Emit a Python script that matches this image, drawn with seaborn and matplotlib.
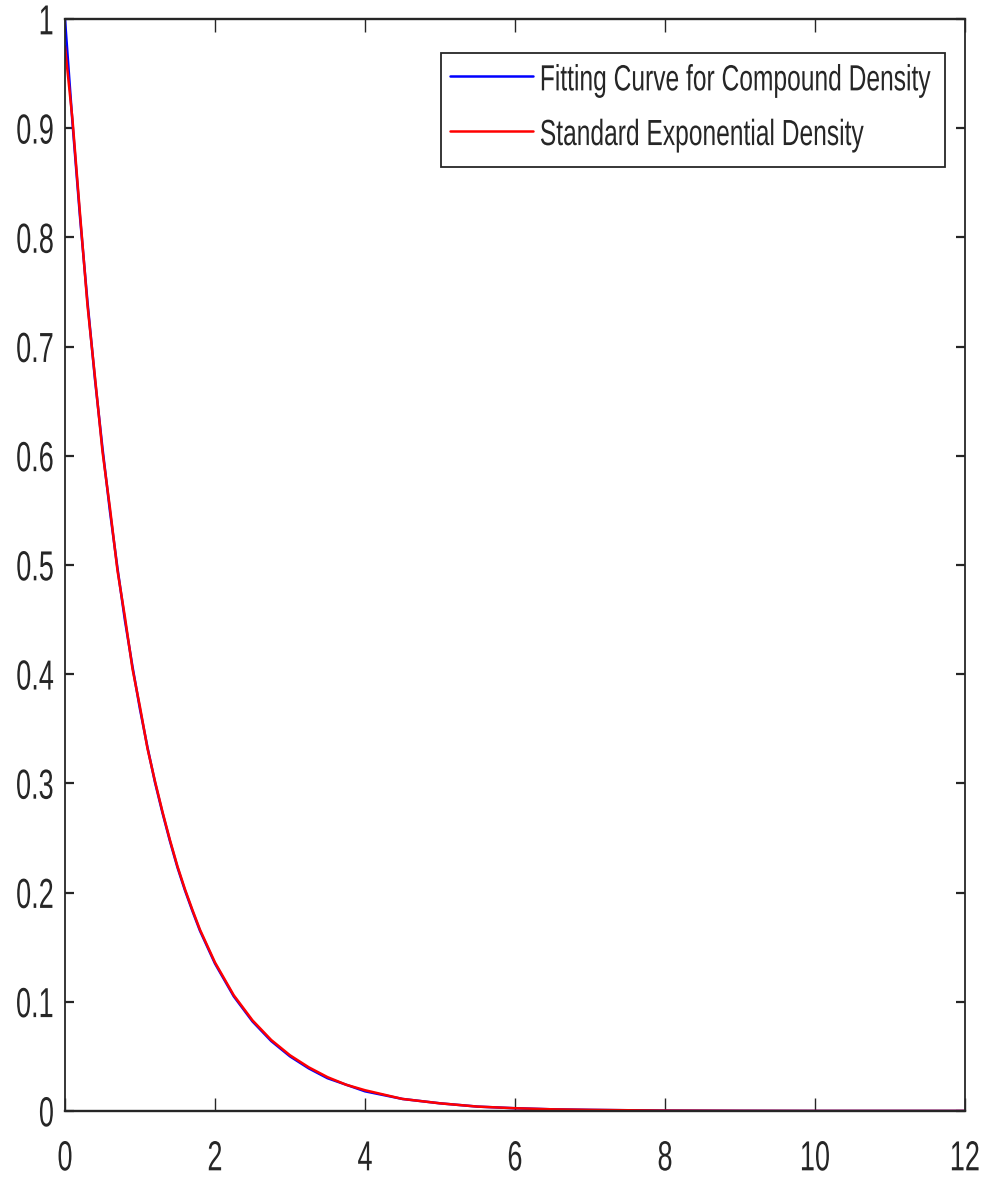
import matplotlib
matplotlib.use("Agg")
import matplotlib.pyplot as plt
from matplotlib.patheffects import AbstractPathEffect
from matplotlib.transforms import Affine2D
import seaborn as sns
import pandas as pd

# Curve samples: x positions and the two densities read along them
x_vals = [0.0, 0.1, 0.2, 0.3, 0.4, 0.5, 0.6, 0.7, 0.8, 0.9, 1.0,
          1.1, 1.2, 1.3, 1.4, 1.5, 1.6, 1.7, 1.8, 1.9, 2.0,
          2.25, 2.5, 2.75, 3.0, 3.25, 3.5, 3.75, 4.0,
          4.5, 5.0, 5.5, 6.0, 6.5, 7.0, 8.0, 9.0, 10.0, 11.0, 12.0]
fitting_curve = [1.000, 0.905, 0.819, 0.741, 0.670, 0.607, 0.549, 0.497, 0.449, 0.407, 0.368,
                 0.333, 0.301, 0.273, 0.247, 0.223, 0.202, 0.183, 0.165, 0.150, 0.135,
                 0.105, 0.082, 0.064, 0.050, 0.039, 0.030, 0.024, 0.018,
                 0.011, 0.007, 0.004, 0.0025, 0.0015, 0.001, 0.0003, 0.0001, 0.0, 0.0, 0.0]
standard_exp = [0.975, 0.908, 0.822, 0.738, 0.672, 0.604, 0.552, 0.495, 0.452, 0.405, 0.370,
                0.332, 0.302, 0.274, 0.248, 0.224, 0.203, 0.184, 0.166, 0.151, 0.136,
                0.106, 0.083, 0.065, 0.051, 0.040, 0.031, 0.024, 0.019,
                0.011, 0.007, 0.004, 0.0025, 0.0015, 0.001, 0.0003, 0.0001, 0.0, 0.0, 0.0]
series_labels = ["Fitting Curve for Compound Density", "Standard Exponential Density"]
x_ticks = [0, 2, 4, 6, 8, 10, 12]
y_ticks = [0, 0.1, 0.2, 0.3, 0.4, 0.5, 0.6, 0.7, 0.8, 0.9, 1]
y_tick_labels = ["0", "0.1", "0.2", "0.3", "0.4", "0.5", "0.6", "0.7", "0.8", "0.9", "1"]

INK = "#262626"
CAP_MID = 35.8  # half the cap height, in text-path units (100 per em)


class TallGlyphs(AbstractPathEffect):
    """Draw glyphs taller than their font size, about a fixed height in the line."""

    def __init__(self, sy, y_anchor=0.0):
        super().__init__()
        self.sy = sy
        self.y_anchor = y_anchor

    def draw_path(self, renderer, gc, tpath, affine, rgbFace=None):
        yc = self.y_anchor
        stretch = Affine2D().translate(0, -yc).scale(1.0, self.sy).translate(0, yc)
        renderer.draw_path(gc, tpath, stretch + affine, rgbFace)


sns.set_style("white")
plt.rcParams["font.family"] = ["Liberation Sans", "DejaVu Sans"]

df = pd.DataFrame({
    "x": x_vals * 2,
    "y": fitting_curve + standard_exp,
    "series": [series_labels[0]] * len(x_vals) + [series_labels[1]] * len(x_vals),
})

fig = plt.figure(figsize=(9.86, 11.82), dpi=100)
ax = fig.add_axes([0.0659, 0.0601, 0.9128, 0.9238])

sns.lineplot(data=df, x="x", y="y", hue="series",
             palette={series_labels[0]: "#0000ff", series_labels[1]: "#ff0000"},
             linewidth=1.8, ax=ax, estimator=None, sort=False)

ax.set_xlim(0, 12)
ax.set_ylim(0, 1)
ax.set_xticks(x_ticks)
ax.set_xticklabels([str(t) for t in x_ticks])
ax.set_yticks(y_ticks)
ax.set_yticklabels(y_tick_labels)
ax.set_xlabel("")
ax.set_ylabel("")

for side in ["left", "right"]:
    ax.spines[side].set_visible(True)
    ax.spines[side].set_color(INK)
    ax.spines[side].set_linewidth(1.3)
for side in ["top", "bottom"]:
    ax.spines[side].set_visible(True)
    ax.spines[side].set_color(INK)
    ax.spines[side].set_linewidth(1.7)

ax.tick_params(axis="both", which="major", direction="in",
               color=INK, labelcolor=INK, labelsize=19.5,
               top=True, right=True, bottom=True, left=True)
ax.tick_params(axis="x", length=9.5, width=1.0, pad=24.5)
ax.tick_params(axis="y", length=6.5, width=1.6, pad=8)

for lab in ax.get_xticklabels() + ax.get_yticklabels():
    lab.set_path_effects([TallGlyphs(1.55, CAP_MID)])

leg = ax.legend(loc="upper left", bbox_to_anchor=(0.4178, 0.5, 0.56, 0.4691),
                mode="expand", fontsize=17.7, frameon=True, fancybox=False,
                framealpha=1, edgecolor=INK, handlelength=3.37, handleheight=2.23,
                handletextpad=0.28, borderpad=0.37, labelspacing=0.53,
                borderaxespad=0)
leg.get_frame().set_linewidth(1.3)
for line in leg.get_lines():
    line.set_linewidth(1.8)
for txt in leg.get_texts():
    txt.set_color(INK)
    txt.set_path_effects([TallGlyphs(1.48, 0.0)])

fig.savefig("out.png", dpi=100)
